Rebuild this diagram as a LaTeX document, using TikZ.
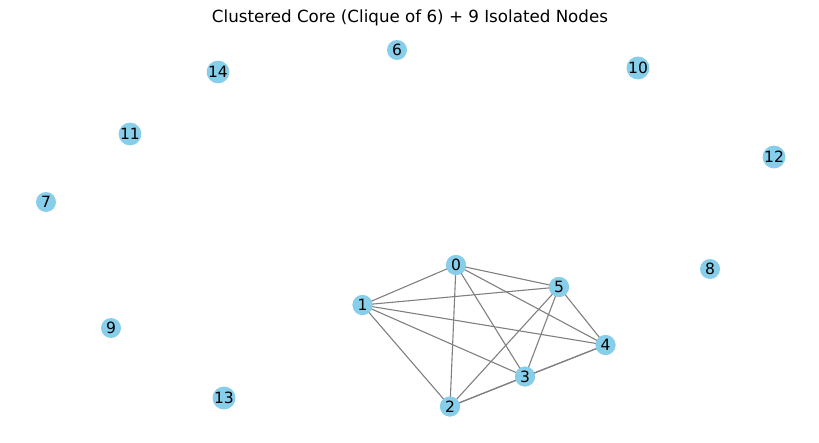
\documentclass[tikz,border=0pt]{standalone}
\usepackage{fontspec}
\setmainfont{DejaVu Sans}
\definecolor{skyblue}{HTML}{87CEEB}
\definecolor{edgegray}{HTML}{808080}
\begin{document}
\begin{tikzpicture}[x=1pt,y=-1pt,
  vtx/.style={circle,fill=skyblue,minimum size=20pt,inner sep=0pt,font=\fontsize{15.5}{16}\selectfont},
  edge/.style={draw=edgegray,line width=1.1pt}]
\useasboundingbox (0,0) rectangle (819,442);
\node[font=\fontsize{16.7}{18}\selectfont] (title) at (410,18) {Clustered Core (Clique of 6) + 9 Isolated Nodes};
\node[vtx] (n0) at (456,265) {0};
\node[vtx] (n1) at (362.5,305) {1};
\node[vtx] (n2) at (450,406.5) {2};
\node[vtx] (n3) at (525,376.5) {3};
\node[vtx] (n4) at (605.5,345) {4};
\node[vtx] (n5) at (559,287) {5};
\node[vtx] (n6) at (397,50) {6};
\node[vtx] (n7) at (46,202) {7};
\node[vtx] (n8) at (710,269) {8};
\node[vtx] (n9) at (111,328) {9};
\node[vtx] (n10) at (638,68) {10};
\node[vtx] (n11) at (130,134) {11};
\node[vtx] (n12) at (774,157) {12};
\node[vtx] (n13) at (224,398) {13};
\node[vtx] (n14) at (218,72) {14};
\foreach \a/\b in {0/1,0/2,0/3,0/4,0/5,1/2,1/3,1/4,1/5,2/3,2/4,2/5,3/4,3/5,4/5}{
  \path[edge] (n\a.center) -- (n\b.center);
}
\foreach \i in {0,1,2,3,4,5}{
  \node[vtx] at (n\i) {\i};
}
\end{tikzpicture}
\end{document}
